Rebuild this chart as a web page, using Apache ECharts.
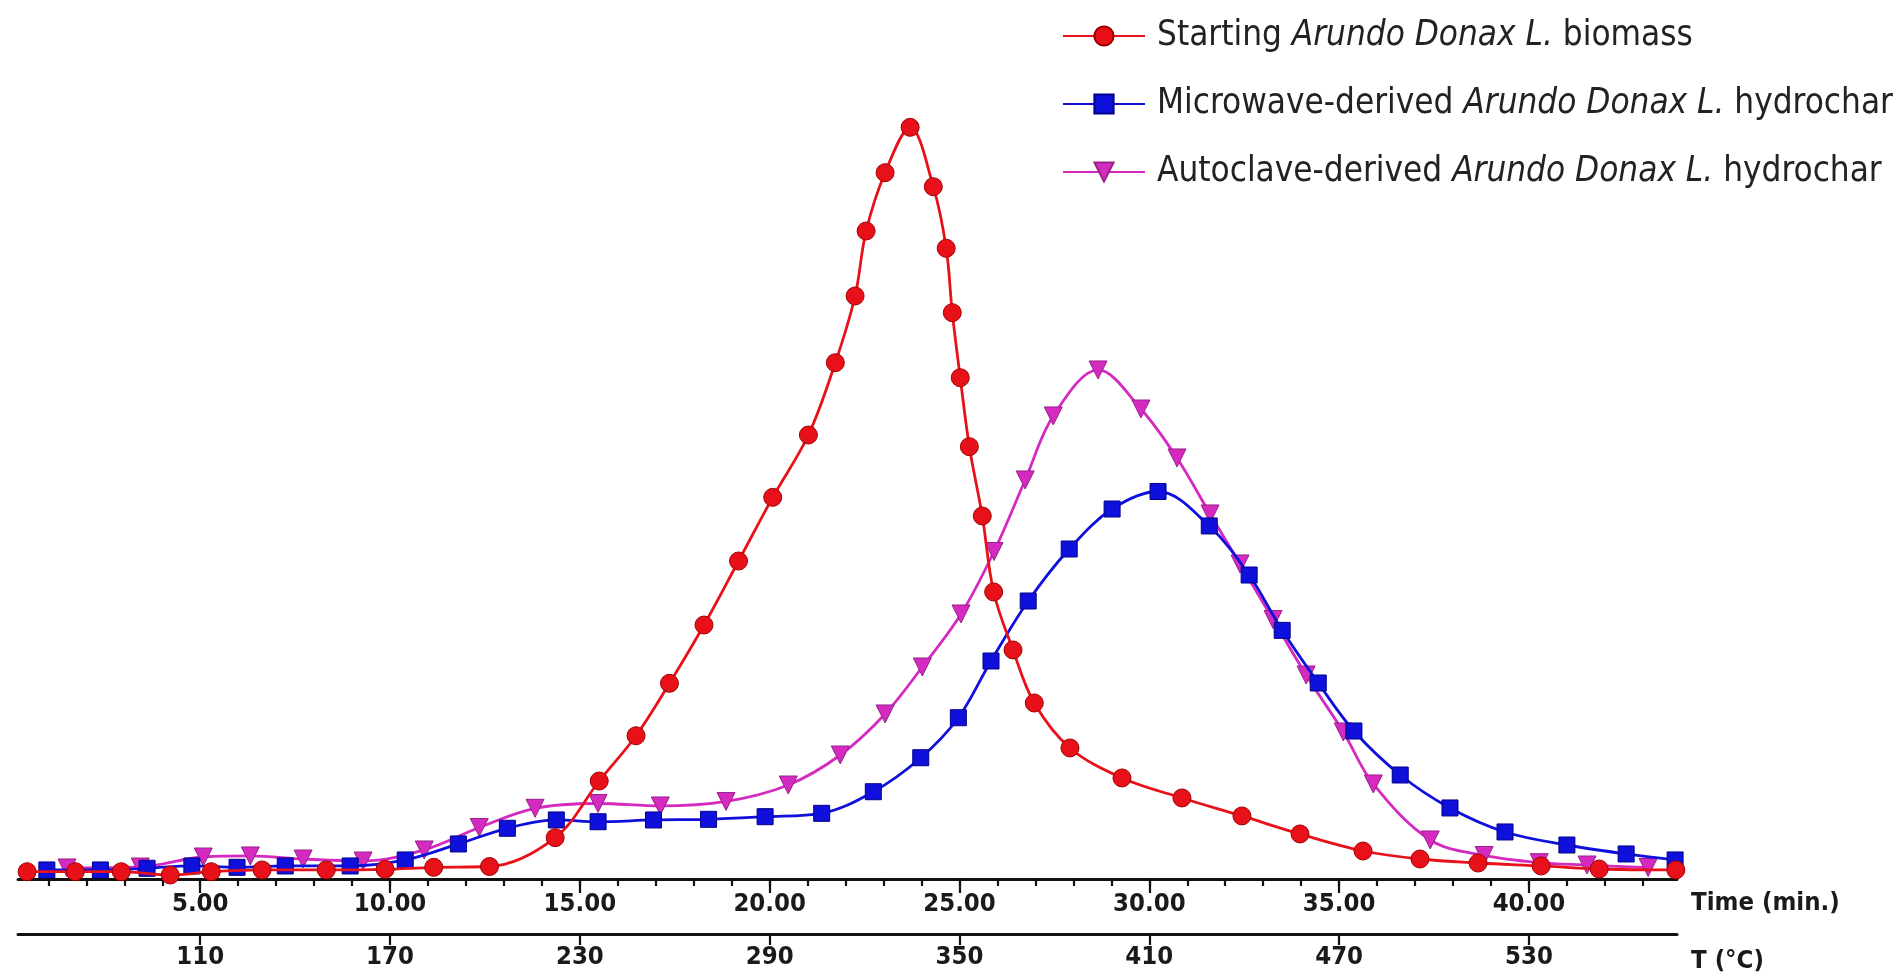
<!DOCTYPE html>
<html><head><meta charset="utf-8">
<script src="https://cdn.jsdelivr.net/npm/echarts@6/dist/echarts.min.js"></script>
<style>html,body{margin:0;padding:0;background:#fff}#c{width:1900px;height:975px}</style>
</head><body><div id="c"></div>
<script>
const seriesNames = [
  'Starting Arundo Donax L. biomass',
  'Microwave-derived Arundo Donax L. hydrochar',
  'Autoclave-derived Arundo Donax L. hydrochar'
];
// Starting biomass (red)
const redTime = [0.44,1.71,2.92,4.21,5.29,6.63,8.32,9.87,11.15,12.62,14.35,15.51,16.48,17.36,18.27,19.18,20.08,21.02,21.73,22.25,22.54,23.04,23.70,24.31,24.65,24.81,25.02,25.26,25.60,25.90,26.41,26.97,27.91,29.28,30.86,32.44,33.97,35.63,37.13,38.66,40.32,41.85,43.87];
const redDTG  = [0.91,0.91,0.91,0.5,0.91,1.13,1.13,1.21,1.46,1.56,5.16,12.25,17.91,24.46,31.75,39.75,47.71,55.5,64.54,72.88,81.0,88.29,93.96,86.54,78.84,70.79,62.66,54.04,45.38,35.88,28.63,22.0,16.38,12.63,10.13,7.88,5.63,3.5,2.5,2.0,1.63,1.25,1.13];
// Microwave hydrochar (blue)
const blueTime = [0.96,2.37,3.60,4.78,5.97,7.24,8.95,10.40,11.80,13.09,14.38,15.48,16.94,18.39,19.88,21.37,22.73,23.98,24.97,25.83,26.81,27.89,29.02,30.23,31.58,32.63,33.50,34.45,35.39,36.61,37.92,39.37,41.00,42.56,43.85];
const blueDTG  = [1.13,1.13,1.34,1.63,1.46,1.63,1.63,2.38,4.38,6.34,7.38,7.16,7.38,7.46,7.79,8.21,10.91,15.16,20.16,27.25,34.75,41.25,46.25,48.44,44.13,38.0,31.08,24.5,18.5,13.0,8.88,5.88,4.25,3.13,2.38];
// Autoclave hydrochar (magenta)
const magTime = [1.49,3.42,5.08,6.32,7.71,9.29,10.90,12.35,13.82,15.48,17.12,18.85,20.49,21.86,23.04,24.02,25.04,25.91,26.73,27.47,28.65,29.78,30.73,31.60,32.39,33.26,34.13,35.11,35.90,37.40,38.82,40.27,41.53,43.14];
const magDTG  = [1.38,1.5,2.75,2.88,2.5,2.25,3.63,6.44,8.84,9.44,9.13,9.69,11.75,15.5,20.63,26.5,33.13,40.94,49.88,57.88,63.63,58.75,52.63,45.63,39.38,32.44,25.5,18.38,11.88,4.88,2.94,2.04,1.75,1.43];

const timeTicks = [5,10,15,20,25,30,35,40];
const timeTickLabels = ['5.00','10.00','15.00','20.00','25.00','30.00','35.00','40.00'];
const tempTickLabels = ['110','170','230','290','350','410','470','530'];
const minorTicks = [1,2,3,4,5,6,7,8,9,10,11,12,13,14,15,16,17,18,19,20,21,22,23,24,25,26,27,28,29,30,31,32,33,34,35,36,37,38,39,40,41,42,43];

const FONT = '"DejaVu Sans Condensed", "DejaVu Sans", sans-serif';
const pair = (xs, ys) => xs.map((x, i) => [x, ys[i]]);

const chart = echarts.init(document.getElementById('c'), null, {renderer: 'canvas'});
const axisBase = {type: 'value', min: 0.2, max: 43.9, gridIndex: 0, splitLine: {show: false}, position: 'bottom'};
const labelFont = {fontFamily: FONT, fontSize: 25.5, fontWeight: 'bold', color: '#1a1a1a'};
chart.setOption({
  animation: false,
  backgroundColor: '#fff',
  grid: {left: 18, right: 223, top: 79, bottom: 96, containLabel: false, outerBoundsMode: 'none'},
  legend: {
    orient: 'vertical', left: 1057, top: 11,
    itemWidth: 82, itemHeight: 24, itemGap: 28,
    data: seriesNames,
    formatter: n => n.replace('Arundo Donax L.', '{i|Arundo Donax L.}'),
    textStyle: {fontFamily: FONT, fontSize: 34.8, color: '#222', lineHeight: 40, padding: [0, 0, 0, 7],
      rich: {i: {fontFamily: FONT, fontSize: 34.8, fontStyle: 'italic', color: '#222', lineHeight: 40}}}
  },
  xAxis: [
    Object.assign({}, axisBase, {
      axisLine: {show: true, lineStyle: {color: '#111', width: 3}},
      axisTick: {show: true, customValues: minorTicks, length: 7, lineStyle: {color: '#111', width: 2.2}},
      axisLabel: {show: false}
    }),
    Object.assign({}, axisBase, {
      axisLine: {show: false},
      axisTick: {show: true, customValues: timeTicks, length: 14, lineStyle: {color: '#111', width: 2.2}},
      axisLabel: Object.assign({show: true, customValues: timeTicks, margin: 12,
        formatter: v => timeTickLabels[timeTicks.indexOf(v)]}, labelFont),
      name: 'Time (min.)', nameLocation: 'end', nameGap: 14,
      nameTextStyle: Object.assign({align: 'left', verticalAlign: 'top', lineHeight: 48}, labelFont)
    }),
    Object.assign({}, axisBase, {
      offset: 55,
      axisLine: {show: true, lineStyle: {color: '#111', width: 3}},
      axisTick: {show: true, customValues: timeTicks, length: 11, lineStyle: {color: '#111', width: 2.2}},
      axisLabel: Object.assign({show: true, customValues: timeTicks, margin: 10,
        formatter: v => tempTickLabels[timeTicks.indexOf(v)]}, labelFont),
      name: 'T (°C)', nameLocation: 'end', nameGap: 14,
      nameTextStyle: Object.assign({align: 'left', verticalAlign: 'top', lineHeight: 54}, labelFont)
    })
  ],
  yAxis: {type: 'value', min: 0, max: 100, show: false, splitLine: {show: false}},
  series: [
    {name: seriesNames[0], type: 'line', xAxisIndex: 0, data: pair(redTime, redDTG), smooth: 0.35, z: 4,
      symbol: 'circle', symbolSize: 18, lineStyle: {color: '#e8111a', width: 2.8},
      itemStyle: {color: '#e8111a', borderColor: '#a00000', borderWidth: 1}},
    {name: seriesNames[1], type: 'line', xAxisIndex: 0, data: pair(blueTime, blueDTG), smooth: 0.35, z: 3,
      symbol: 'rect', symbolSize: 16, lineStyle: {color: '#1010dd', width: 2.8},
      itemStyle: {color: '#1010dd', borderColor: '#000088', borderWidth: 1}},
    {name: seriesNames[2], type: 'line', xAxisIndex: 0, data: pair(magTime, magDTG), smooth: 0.35, z: 2,
      symbol: 'triangle', symbolRotate: 180, symbolSize: 18, lineStyle: {color: '#d42ac0', width: 2.8},
      itemStyle: {color: '#d42ac0', borderColor: '#992288', borderWidth: 1}}
  ]
});
</script></body></html>
